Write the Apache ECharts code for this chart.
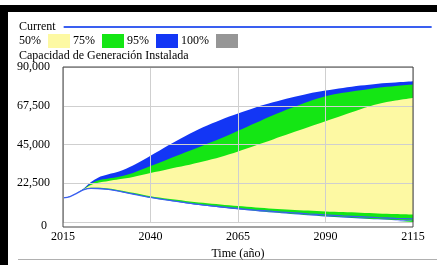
<!DOCTYPE html>
<html>
<head>
<meta charset="utf-8">
<script src="https://cdn.jsdelivr.net/npm/echarts@6/dist/echarts.min.js"></script>
<style>
  html, body { margin: 0; padding: 0; background: #fff; }
  #main { width: 437px; height: 265px; }
</style>
</head>
<body>
<div id="main"></div>
<script>
var years = [2015, 2017, 2019, 2021, 2023, 2025, 2028, 2031, 2035, 2040, 2045, 2050, 2055,
             2060, 2065, 2070, 2075, 2080, 2085, 2090, 2095, 2100, 2105, 2110, 2115];

// corrida actual (linea azul)
var current = [14000, 14800, 16800, 18900, 19600, 19500, 19000, 18000, 16300, 14300, 12700, 11300, 10000,
               8900, 7900, 7000, 6200, 5500, 4800, 4200, 3600, 3100, 2600, 2200, 1900];

// limites inferiores de las bandas
var lo95 = [14000, 14800, 16800, 18800, 19400, 19300, 18800, 17800, 16100, 14100, 12500, 11000, 9700,
            8500, 7400, 6400, 5500, 4700, 4000, 3300, 2700, 2100, 1600, 1100, 700];
var lo75 = [14000, 14800, 16800, 18900, 19500, 19400, 18900, 17900, 16200, 14200, 12600, 11200, 9900,
            8700, 7600, 6600, 5700, 4900, 4200, 3500, 2900, 2300, 1800, 1300, 900];
var lo50 = [14000, 14800, 16800, 19000, 19900, 19900, 19500, 18500, 17000, 15000, 13500, 12300, 11200,
            10200, 9300, 8500, 7800, 7200, 6700, 6200, 5800, 5400, 5000, 4700, 4400];

// limites superiores
var hi50 = [14000, 14800, 16800, 19200, 21500, 22800, 23800, 24800, 26200, 28500, 30700, 32800, 35200,
            37800, 41000, 44500, 48000, 51500, 55000, 58500, 62000, 65500, 68500, 70500, 72000];
var hi75 = [14000, 14800, 16800, 19400, 22300, 24200, 25300, 26300, 28500, 32500, 36500, 40500, 44500,
            48500, 53000, 57500, 62000, 66000, 69800, 73000, 75000, 76500, 78000, 79000, 79900];
var hi95 = [14000, 14800, 16900, 19600, 23200, 25800, 27700, 29300, 32800, 38500, 44500, 50000, 55000,
            59300, 63000, 66500, 69500, 72200, 74500, 76300, 77800, 79200, 80300, 81000, 81700];

var chart = echarts.init(document.getElementById('main'));
var serif = '"Liberation Serif", "DejaVu Serif", serif';

function pairs(arr) {
    return years.map(function (y, i) { return [y, arr[i]]; });
}
// cada banda se pinta como area hasta el eje; las de abajo tapan a las de arriba
function area(name, color, arr) {
    return {
        name: name, type: 'line', symbol: 'none', smooth: 0.3,
        lineStyle: { width: 0 }, itemStyle: { color: color },
        areaStyle: { color: color, opacity: 1 },
        data: pairs(arr), z: 2
    };
}

var option = {
    animation: false,
    textStyle: { fontFamily: serif },
    title: {
        text: 'Capacidad de Generación Instalada',
        left: 14, top: 45,
        textStyle: { fontFamily: serif, fontSize: 12, fontWeight: 'normal', color: '#000' }
    },
    legend: [{
        data: ['Current'], left: 14, top: 16, align: 'right',
        icon: 'rect', itemWidth: 368, itemHeight: 2, itemGap: 4,
        textStyle: { fontFamily: serif, fontSize: 12, color: '#000', padding: [0, 3, 0, 0] }
    }, {
        data: ['50%', '75%', '95%', '100%'], left: 14, top: 29, align: 'right',
        icon: 'rect', itemWidth: 22, itemHeight: 14, itemGap: 3,
        textStyle: { fontFamily: serif, fontSize: 12, color: '#000', padding: [0, 2, 0, 0] }
    }],
    grid: { left: 63, right: 24, top: 67, bottom: 38 },
    xAxis: {
        type: 'value', min: 2015, max: 2115, interval: 25, z: 5,
        name: 'Time (año)', nameLocation: 'middle', nameGap: 24,
        nameTextStyle: { fontFamily: serif, fontSize: 12, color: '#000' },
        axisLine: { show: false }, axisTick: { show: false },
        axisLabel: { fontFamily: serif, fontSize: 12, color: '#000', margin: 9,
                     formatter: function (v) { return String(v); } },
        splitLine: { lineStyle: { color: '#cfcfcf', width: 1 } }
    },
    yAxis: {
        type: 'value', min: 0, max: 90000, interval: 22500, z: 5,
        axisLine: { show: false }, axisTick: { show: false },
        axisLabel: {
            fontFamily: serif, fontSize: 12, color: '#000', margin: 13,
            formatter: function (v) {
                return v === 0 ? '{z|0}' : v.toLocaleString('en-US');
            },
            rich: { z: { fontFamily: serif, fontSize: 12, color: '#000', padding: [8, 3, 0, 0] } }
        },
        splitLine: { lineStyle: { color: '#cfcfcf', width: 1 } }
    },
    series: [
        area('95%', '#1336f5', hi95),
        area('75%', '#14e614', hi75),
        area('50%', '#fdf9a3', hi50),
        area('75%', '#14e614', lo50),
        area('95%', '#1336f5', lo75),
        area('blanco', '#ffffff', lo95),
        { name: '100%', type: 'line', symbol: 'none', itemStyle: { color: '#969696' }, data: [] },
        { name: 'Current', type: 'line', symbol: 'none', smooth: 0.3, z: 3,
          itemStyle: { color: '#3a5ff0' }, lineStyle: { color: '#3a5ff0', width: 1.3 },
          data: pairs(current) }
    ],
    graphic: [
        { type: 'rect', shape: { x: 0, y: 5, width: 437, height: 7 }, style: { fill: '#000' } },
        { type: 'rect', shape: { x: 0, y: 5, width: 8, height: 260 }, style: { fill: '#000' } },
        { type: 'rect', shape: { x: 18, y: 259, width: 419, height: 1 }, style: { fill: '#b0b0b0' } },
        { type: 'rect', shape: { x: 63, y: 67, width: 350, height: 160 }, z: 10,
          style: { fill: 'none', stroke: '#444', lineWidth: 1 } }
    ]
};
chart.setOption(option);
</script>
</body>
</html>
